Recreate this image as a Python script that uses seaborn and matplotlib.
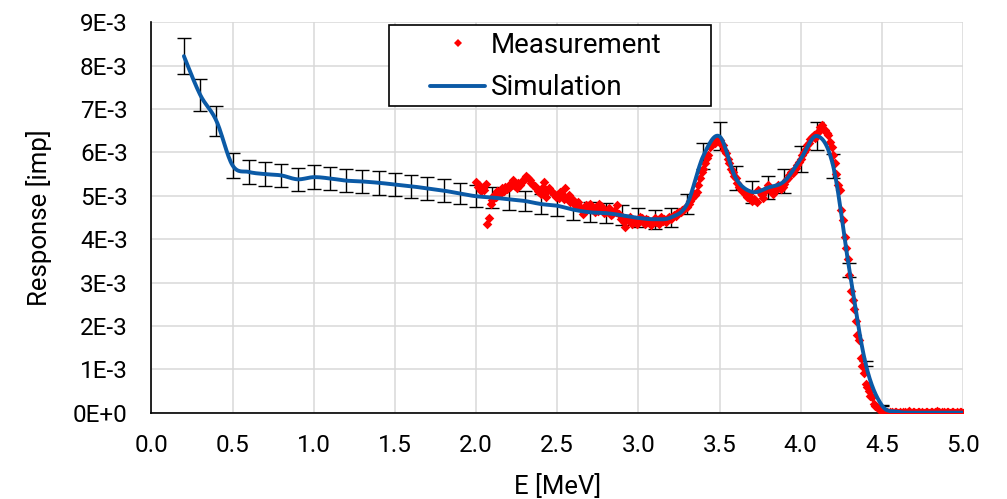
import numpy as np
import pandas as pd
import matplotlib
matplotlib.use("Agg")
import matplotlib.pyplot as plt
import seaborn as sns
from matplotlib.ticker import FuncFormatter
from matplotlib.patches import Rectangle
from matplotlib.lines import Line2D

# ---------------- data (response values in units of 1E-3) ----------------
sim_energy = [0.2, 0.3, 0.4, 0.5, 0.6, 0.7, 0.8, 0.9, 1.0, 1.1, 1.2, 1.3, 1.4, 1.5,
              1.6, 1.7, 1.8, 1.9, 2.0, 2.1, 2.2, 2.3, 2.4, 2.5, 2.6, 2.7, 2.8, 2.9,
              3.0, 3.1, 3.2, 3.3, 3.4, 3.5, 3.6, 3.7, 3.8, 3.9, 4.0, 4.1, 4.2, 4.3,
              4.4, 4.5, 4.6, 4.7, 4.8, 4.9, 5.0]
sim_response = [8.22, 7.33, 6.73, 5.70, 5.55, 5.50, 5.47, 5.38, 5.43, 5.40, 5.35, 5.33, 5.30, 5.26,
                5.22, 5.17, 5.12, 5.05, 4.99, 4.96, 4.92, 4.88, 4.81, 4.77, 4.68, 4.62, 4.60, 4.55,
                4.49, 4.46, 4.50, 4.81, 5.92, 6.37, 5.41, 5.09, 5.19, 5.34, 5.85, 6.38, 5.69, 3.29,
                1.13, 0.17, 0.02, 0.00, 0.00, 0.00, 0.00]
sim_error = [0.41, 0.37, 0.34, 0.29, 0.28, 0.28, 0.27, 0.27, 0.27, 0.27, 0.27, 0.27, 0.27, 0.26,
             0.26, 0.26, 0.26, 0.25, 0.25, 0.25, 0.25, 0.24, 0.24, 0.24, 0.23, 0.23, 0.23, 0.23,
             0.22, 0.22, 0.23, 0.24, 0.30, 0.32, 0.27, 0.25, 0.26, 0.27, 0.29, 0.32, 0.28, 0.16,
             0.06, 0.01, 0.00, 0.00, 0.00, 0.00, 0.00]

meas_energy = [
    2.00, 2.01, 2.02, 2.03, 2.04, 2.05, 2.06, 2.07, 2.08, 2.09, 2.10,
    2.11, 2.12, 2.13, 2.14, 2.15, 2.16, 2.17, 2.18, 2.19, 2.20,
    2.21, 2.22, 2.23, 2.24, 2.25, 2.26, 2.27, 2.28, 2.29, 2.30,
    2.31, 2.32, 2.33, 2.34, 2.35, 2.36, 2.37, 2.38, 2.39, 2.40,
    2.41, 2.42, 2.43, 2.44, 2.45, 2.46, 2.47, 2.48, 2.49, 2.50,
    2.51, 2.52, 2.53, 2.54, 2.55, 2.56, 2.57, 2.58, 2.59, 2.60,
    2.61, 2.62, 2.63, 2.64, 2.65, 2.66, 2.67, 2.68, 2.69, 2.70,
    2.71, 2.72, 2.73, 2.74, 2.75, 2.76, 2.77, 2.78, 2.79, 2.80,
    2.81, 2.82, 2.83, 2.84, 2.85, 2.86, 2.87, 2.88, 2.89, 2.90,
    2.91, 2.92, 2.93, 2.94, 2.95, 2.96, 2.97, 2.98, 2.99, 3.00,
    3.01, 3.02, 3.03, 3.04, 3.05, 3.06, 3.07, 3.08, 3.09, 3.10,
    3.11, 3.12, 3.13, 3.14, 3.15, 3.16, 3.17, 3.18, 3.19, 3.20,
    3.21, 3.22, 3.23, 3.24, 3.25, 3.26, 3.27, 3.28, 3.29, 3.30,
    3.31, 3.32, 3.33, 3.34, 3.35, 3.36, 3.37, 3.38, 3.39, 3.40,
    3.41, 3.42, 3.43, 3.44, 3.45, 3.46, 3.47, 3.48, 3.49, 3.50,
    3.51, 3.52, 3.53, 3.54, 3.55, 3.56, 3.57, 3.58, 3.59, 3.60,
    3.61, 3.62, 3.63, 3.64, 3.65, 3.66, 3.67, 3.68, 3.69, 3.70,
    3.71, 3.72, 3.73, 3.74, 3.75, 3.76, 3.77, 3.78, 3.79, 3.80,
    3.81, 3.82, 3.83, 3.84, 3.85, 3.86, 3.87, 3.88, 3.89, 3.90,
    3.91, 3.92, 3.93, 3.94, 3.95, 3.96, 3.97, 3.98, 3.99, 4.00,
    4.01, 4.02, 4.03, 4.04, 4.05, 4.06, 4.07, 4.08, 4.09, 4.10,
    4.11, 4.12, 4.13, 4.14, 4.15, 4.16, 4.17, 4.18, 4.19, 4.20,
    4.21, 4.22, 4.23, 4.24, 4.25, 4.26, 4.27, 4.28, 4.29, 4.30,
    4.31, 4.32, 4.33, 4.34, 4.35, 4.36, 4.37, 4.38, 4.39, 4.40,
    4.41, 4.42, 4.43, 4.44, 4.45, 4.46, 4.47, 4.48, 4.49, 4.50,
    4.51, 4.52, 4.53, 4.54, 4.55, 4.56, 4.57, 4.58, 4.59, 4.60,
    4.61, 4.62, 4.63, 4.64, 4.65, 4.66, 4.67, 4.68, 4.69, 4.70,
    4.71, 4.72, 4.73, 4.74, 4.75, 4.76, 4.77, 4.78, 4.79, 4.80,
    4.81, 4.82, 4.83, 4.84, 4.85, 4.86, 4.87, 4.88, 4.89, 4.90,
    4.91, 4.92, 4.93, 4.94, 4.95, 4.96, 4.97, 4.98, 4.99, 5.00]
meas_response = [
    5.32, 5.20, 5.25, 5.10, 5.17, 5.13, 5.28, 4.34, 4.48, 4.82, 4.90,
    5.02, 4.98, 5.12, 5.09, 5.05, 5.17, 5.10, 5.21, 5.15, 5.25,
    5.20, 5.28, 5.36, 5.22, 5.17, 5.30, 5.25, 5.32, 5.36, 5.40,
    5.46, 5.40, 5.36, 5.30, 5.25, 5.22, 5.17, 5.12, 5.09, 5.05,
    5.20, 5.32, 4.98, 5.10, 5.17, 5.12, 5.09, 5.04, 4.98, 5.02,
    4.96, 5.08, 5.05, 4.92, 5.17, 4.94, 5.02, 4.85, 4.92, 4.90,
    4.78, 4.82, 4.86, 4.74, 4.70, 4.59, 4.72, 4.78, 4.75, 4.82,
    4.70, 4.67, 4.62, 4.74, 4.66, 4.82, 4.76, 4.71, 4.60, 4.63,
    4.68, 4.71, 4.55, 4.59, 4.66, 4.63, 4.78, 4.58, 4.46, 4.51,
    4.40, 4.28, 4.47, 4.44, 4.50, 4.36, 4.42, 4.44, 4.34, 4.40,
    4.52, 4.48, 4.40, 4.36, 4.46, 4.44, 4.38, 4.32, 4.42, 4.48,
    4.40, 4.45, 4.36, 4.50, 4.42, 4.46, 4.40, 4.48, 4.52, 4.47,
    4.51, 4.56, 4.54, 4.60, 4.63, 4.62, 4.67, 4.70, 4.71, 4.74,
    4.82, 4.88, 4.94, 5.05, 5.02, 5.09, 5.25, 5.40, 5.55, 5.62,
    5.75, 5.88, 5.94, 6.13, 6.18, 6.25, 6.22, 6.32, 6.30, 6.28,
    6.20, 6.17, 6.05, 5.98, 5.85, 5.75, 5.62, 5.55, 5.46, 5.40,
    5.30, 5.21, 5.15, 5.12, 5.09, 5.02, 4.98, 5.05, 4.94, 4.88,
    4.92, 4.90, 4.85, 5.13, 5.09, 5.02, 4.96, 5.10, 5.18, 5.25,
    5.15, 5.10, 5.05, 5.12, 5.18, 5.25, 5.20, 5.16, 5.21, 5.28,
    5.36, 5.40, 5.48, 5.55, 5.52, 5.60, 5.63, 5.70, 5.78, 5.85,
    5.95, 6.01, 6.08, 6.17, 6.22, 6.30, 6.36, 6.40, 6.34, 6.44,
    6.50, 6.58, 6.63, 6.55, 6.51, 6.45, 6.40, 6.25, 6.13, 5.95,
    5.75, 5.50, 5.25, 5.13, 4.67, 4.45, 4.05, 3.80, 3.55, 3.17,
    2.81, 2.60, 2.40, 2.11, 1.78, 1.67, 1.25, 1.07, 0.91, 0.67,
    0.60, 0.51, 0.38, 0.36, 0.19, 0.15, 0.13, 0.08, 0.06, 0.05,
    0.03, 0.02, 0.01, 0.00, 0.02, 0.01, 0.00, 0.01, 0.02, 0.00,
    0.01, 0.00, 0.02, 0.01, 0.00, 0.01, 0.03, 0.00, 0.01, 0.02,
    0.00, 0.01, 0.02, 0.00, 0.01, 0.00, 0.02, 0.01, 0.00, 0.02,
    0.01, 0.00, 0.01, 0.03, 0.01, 0.00, 0.02, 0.01, 0.00, 0.01,
    0.02, 0.00, 0.01, 0.02, 0.00, 0.01, 0.00, 0.02, 0.01, 0.00]

y_ticks_e3 = [0, 1, 2, 3, 4, 5, 6, 7, 8, 9]
x_ticks = [0.0, 0.5, 1.0, 1.5, 2.0, 2.5, 3.0, 3.5, 4.0, 4.5, 5.0]

SCALE = 1e-3
sim = pd.DataFrame({"E": sim_energy,
                    "R": np.array(sim_response) * SCALE,
                    "err": np.array(sim_error) * SCALE})
meas = pd.DataFrame({"E": meas_energy, "R": np.array(meas_response) * SCALE})


def smooth_curve(x, y, n=16):
    """Excel-style smoothed line through the given points (Catmull-Rom)."""
    x = np.asarray(x, float)
    y = np.asarray(y, float)
    px = np.concatenate([[x[0]], x, [x[-1]]])
    py = np.concatenate([[y[0]], y, [y[-1]]])
    xs, ys = [], []
    t = np.linspace(0, 1, n, endpoint=False)
    h00 = 2 * t**3 - 3 * t**2 + 1
    h10 = t**3 - 2 * t**2 + t
    h01 = -2 * t**3 + 3 * t**2
    h11 = t**3 - t**2
    for i in range(1, len(px) - 2):
        for p, out in ((px, xs), (py, ys)):
            m1 = (p[i + 1] - p[i - 1]) / 2
            m2 = (p[i + 2] - p[i]) / 2
            out.extend(h00 * p[i] + h10 * m1 + h01 * p[i + 1] + h11 * m2)
    xs.append(x[-1])
    ys.append(y[-1])
    return pd.DataFrame({"E": xs, "R": ys})


# ---------------- style ----------------
sns.set_theme(style="white")
plt.rcParams["font.family"] = ["Roboto", "DejaVu Sans"]
plt.rcParams["text.color"] = "black"
plt.rcParams["axes.labelcolor"] = "black"
plt.rcParams["xtick.color"] = "black"
plt.rcParams["ytick.color"] = "black"

fig = plt.figure(figsize=(10.07, 4.99), dpi=100)
ax = fig.add_axes([0.1504, 0.1730, 0.8059, 0.7823])

LINE_BLUE = "#0B5AA6"

# error bars
ax.errorbar(sim["E"], sim["R"], yerr=sim["err"], fmt="none", ecolor="black",
            elinewidth=1.0, capsize=5, capthick=1.0, zorder=2)

# measurement points
sns.scatterplot(data=meas, x="E", y="R", ax=ax, marker="D", s=24, color="#FF0000",
                linewidth=0, zorder=3, legend=False)

# simulation line
sim_smooth = smooth_curve(sim["E"], sim["R"])
sns.lineplot(data=sim_smooth, x="E", y="R", ax=ax, color=LINE_BLUE, linewidth=2.8,
             zorder=4, legend=False, estimator=None, sort=False)

# axes
ax.set_xlim(0, 5.0)
ax.set_ylim(0, 9 * SCALE)
ax.set_xticks(x_ticks)
ax.set_yticks([v * SCALE for v in y_ticks_e3])
ax.xaxis.set_major_formatter(FuncFormatter(lambda v, p: f"{v:.1f}"))


def yfmt(v, p):
    k = int(round(v / SCALE))
    return "0E+0" if k == 0 else f"{k}E-3"


ax.yaxis.set_major_formatter(FuncFormatter(yfmt))
ax.tick_params(axis="both", length=0, labelsize=17.5)
ax.tick_params(axis="y", pad=17)
ax.tick_params(axis="x", pad=15)

ax.grid(True, color="#D9D9D9", linewidth=1.1)
ax.set_axisbelow(True)
for s in ["top", "right"]:
    ax.spines[s].set_visible(False)
for s in ["left", "bottom"]:
    ax.spines[s].set_color("black")
    ax.spines[s].set_linewidth(1.2)
    ax.spines[s].set_zorder(1.5)

ax.set_xlabel("E [MeV]", fontsize=18.5)
ax.set_ylabel("Response [imp]", fontsize=18.5)
ax.xaxis.set_label_coords(0.5, -0.158)
ax.yaxis.set_label_coords(-0.1226, 0.5)

# legend box + legend
ax.add_patch(Rectangle((0.293, 0.785), 0.3965, 0.208, transform=ax.transAxes,
                       facecolor="white", edgecolor="black", linewidth=1.2,
                       zorder=6, clip_on=False))
handles = [Line2D([], [], linestyle="none", marker="D", markersize=4.2,
                  markerfacecolor="#FF0000", markeredgewidth=0),
           Line2D([], [], color=LINE_BLUE, linewidth=2.8)]
leg = ax.legend(handles, ["Measurement", "Simulation"], loc="upper left",
                bbox_to_anchor=(0.343, 0.975), frameon=False, fontsize=20,
                borderpad=0, borderaxespad=0, handlelength=2.0,
                handletextpad=0.2, labelspacing=0.55)
leg.set_zorder(7)

fig.savefig("out.png", dpi=100)
